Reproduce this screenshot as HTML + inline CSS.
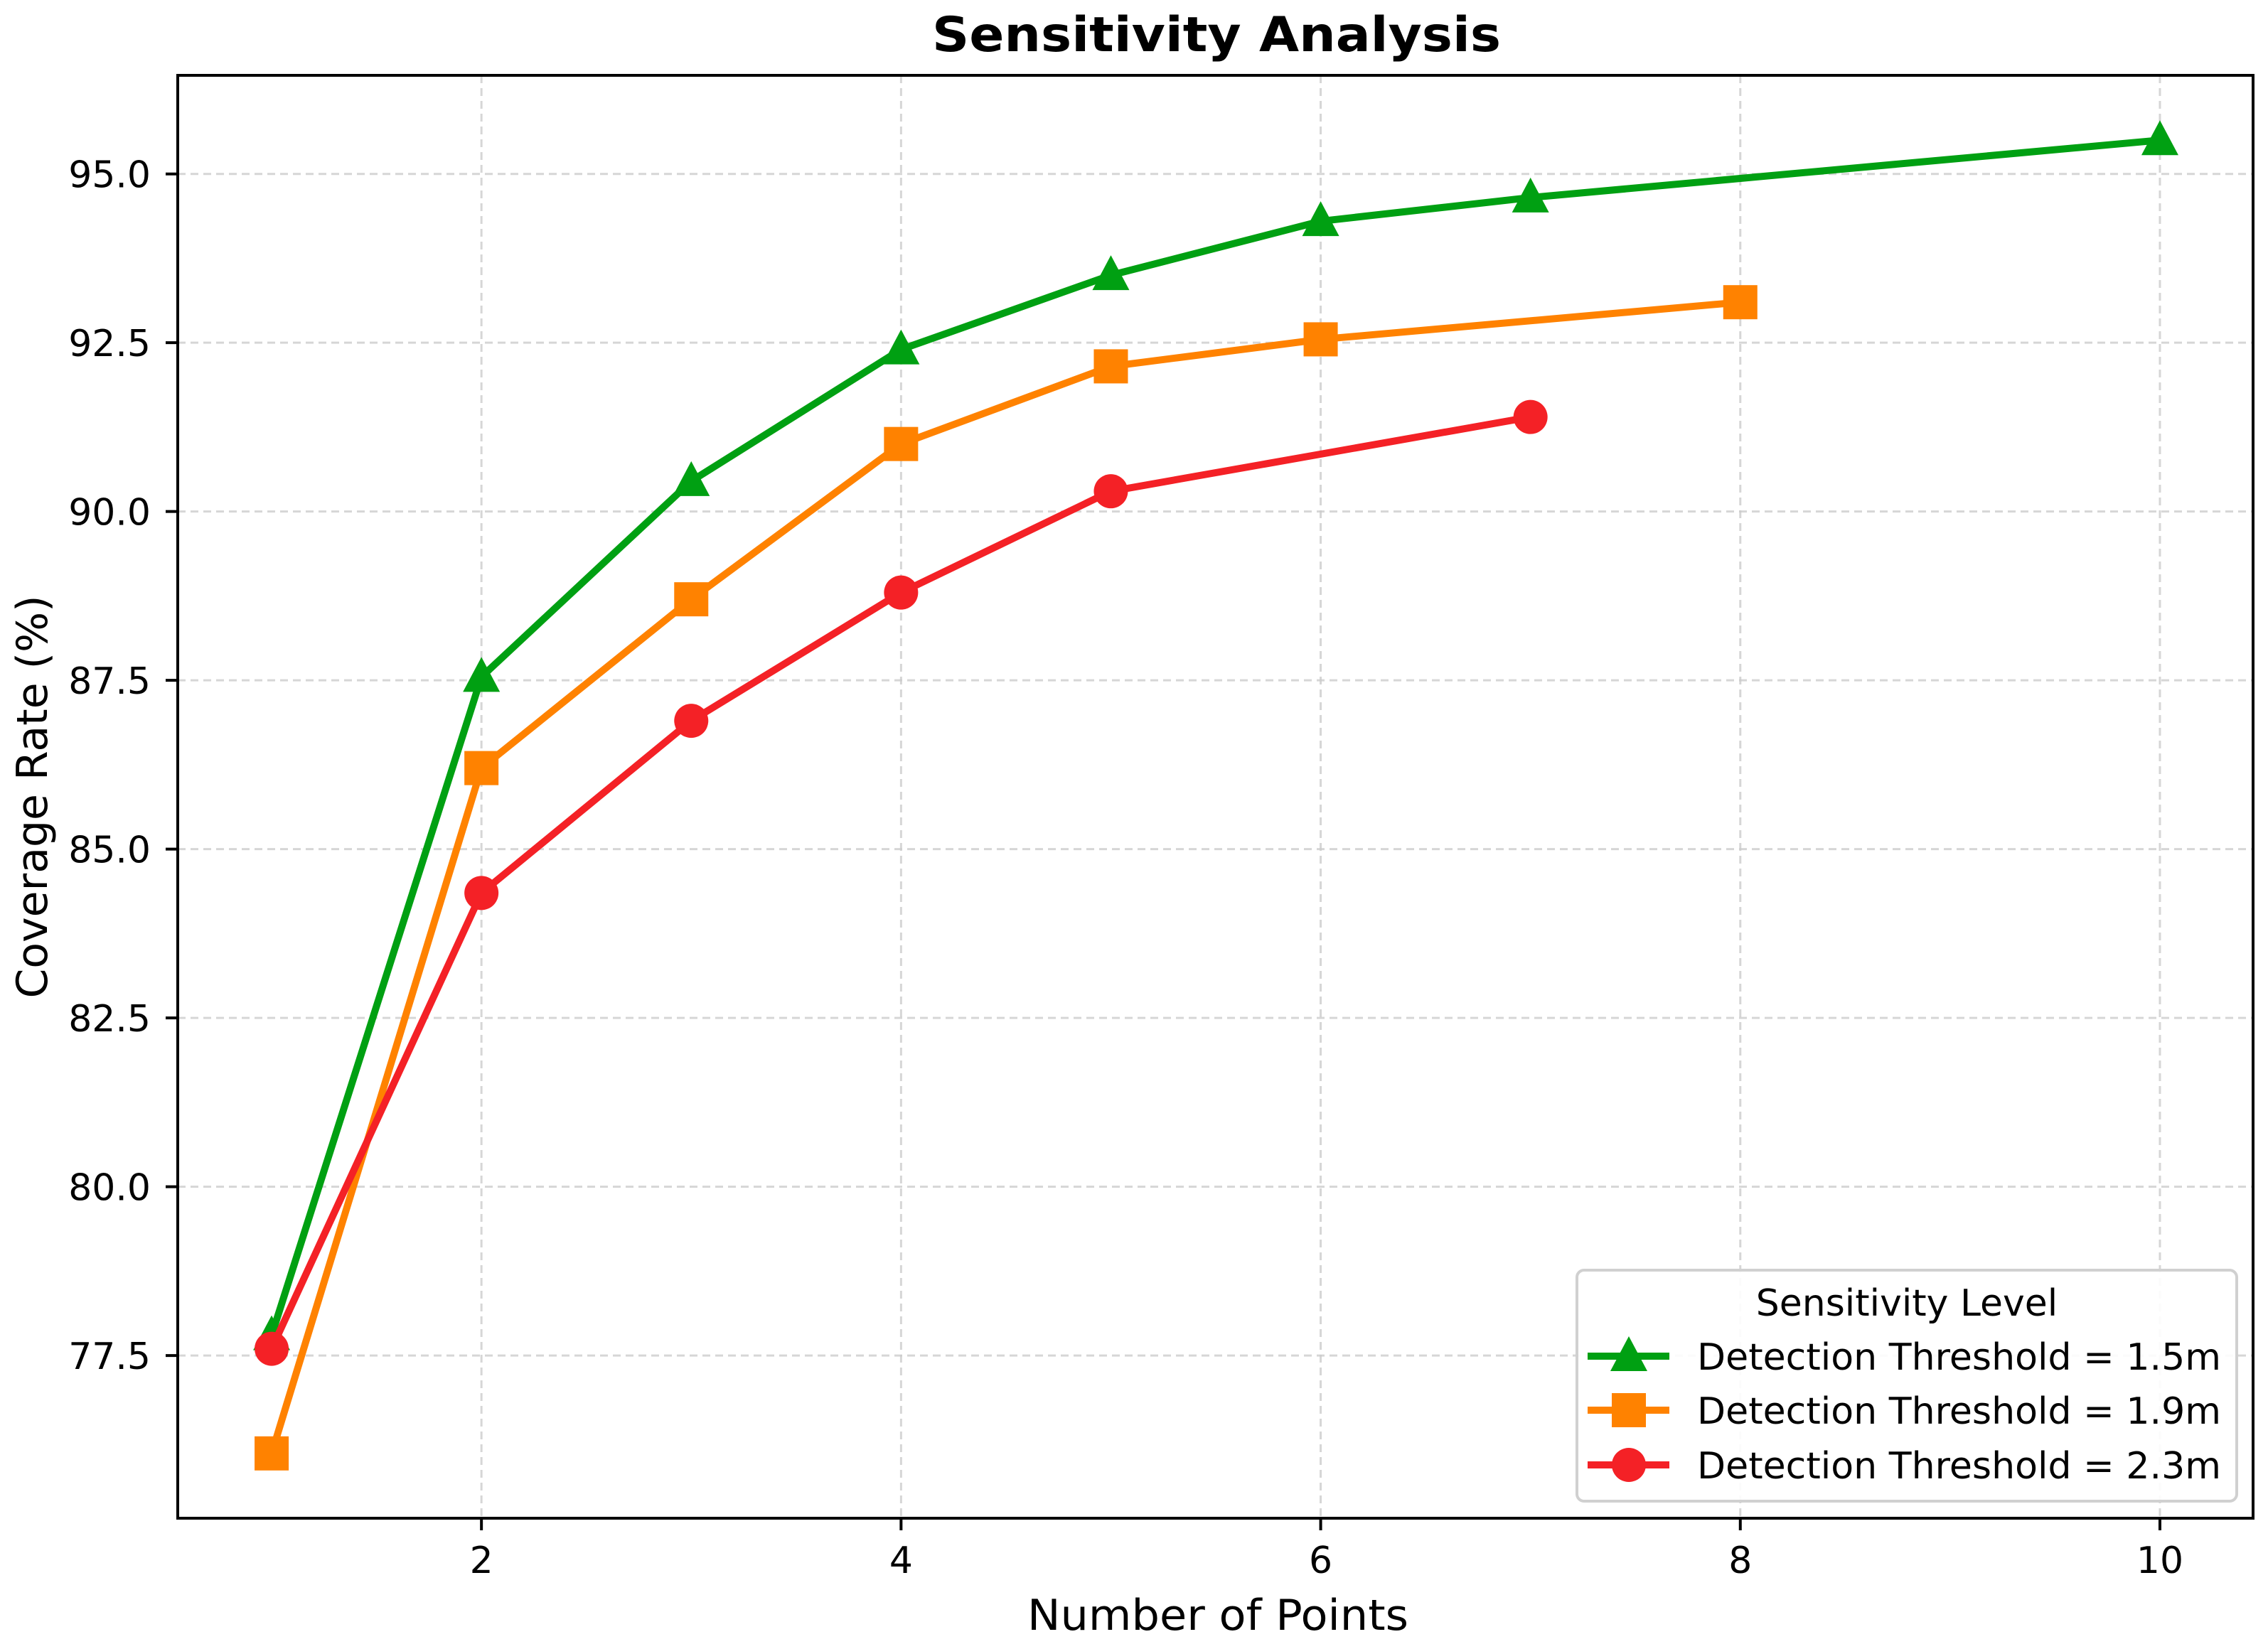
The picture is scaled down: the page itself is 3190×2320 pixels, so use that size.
<!DOCTYPE html>
<html><head><meta charset="utf-8"><title>Sensitivity Analysis</title>
<style>html,body{margin:0;padding:0;background:#fff}svg{display:block}text{font-family:"DejaVu Sans","Liberation Sans",sans-serif}</style>
</head><body>
<svg id="chart" width="3190" height="2320" viewBox="0 0 3190 2320" xmlns="http://www.w3.org/2000/svg">
<rect width="3190" height="2320" fill="#fff"/>
<text x="1711" y="72" text-anchor="middle" font-size="68" font-weight="bold" textLength="800" lengthAdjust="spacingAndGlyphs">Sensitivity Analysis</text>
<g id="grid"></g>
<g id="series"></g>
<rect x="250" y="106" width="2919" height="2030" fill="none" stroke="#000" stroke-width="4"/>
<g id="ticks"></g>
<text x="1713" y="2293" text-anchor="middle" font-size="60" textLength="536" lengthAdjust="spacingAndGlyphs">Number of Points</text>
<text x="0" y="0" transform="translate(66,1121) rotate(-90)" text-anchor="middle" font-size="60">Coverage Rate (%)</text>
<g id="legend"></g>
</svg>
<script>
const xTicks = [2, 4, 6, 8, 10];
const yTicks = [77.5, 80.0, 82.5, 85.0, 87.5, 90.0, 92.5, 95.0];
const yTickLabels = ["77.5", "80.0", "82.5", "85.0", "87.5", "90.0", "92.5", "95.0"];
const seriesNames = ["Detection Threshold = 1.5m", "Detection Threshold = 1.9m", "Detection Threshold = 2.3m"];
const xGreen = [1, 2, 3, 4, 5, 6, 7, 10];
const yGreen = [77.8, 87.55, 90.45, 92.4, 93.5, 94.3, 94.65, 95.5];
const xOrange = [1, 2, 3, 4, 5, 6, 8];
const yOrange = [76.05, 86.2, 88.7, 91.0, 92.15, 92.55, 93.1];
const xRed = [1, 2, 3, 4, 5, 7];
const yRed = [77.6, 84.35, 86.9, 88.8, 90.3, 91.4];

const NS = "http://www.w3.org/2000/svg";
const X0 = 250, X1 = 3169, Y0 = 106, Y1 = 2136;
const xMin = 0.5525, xMax = 10.444, yMin = 75.09, yMax = 96.46;
function sx(v){ return X0 + (v - xMin) / (xMax - xMin) * (X1 - X0); }
function sy(v){ return Y1 - (v - yMin) / (yMax - yMin) * (Y1 - Y0); }
function mk(tag, attrs, parent){ const e = document.createElementNS(NS, tag); for (const k in attrs) e.setAttribute(k, attrs[k]); parent.appendChild(e); return e; }

const grid = document.getElementById('grid');
const ticks = document.getElementById('ticks');
xTicks.forEach(function(t){
  const x = sx(t);
  const g = mk('line', {x1:x, x2:x, y1:Y0, y2:Y1, stroke:'#cccccc', 'stroke-width':3, 'stroke-dasharray':'11 7', opacity:0.8}, grid);
  
  
  const tk = mk('line', {x1:x, x2:x, y1:Y1, y2:Y1+17, stroke:'#000', 'stroke-width':4}, ticks);
  
  
  const tl = mk('text', {x:x, y:2213, 'text-anchor':'middle', 'font-size':52}, ticks);
  tl.textContent = String(t);
  
  
});
yTicks.forEach(function(t, i){
  const y = sy(t);
  const g = mk('line', {x1:X0, x2:X1, y1:y, y2:y, stroke:'#cccccc', 'stroke-width':3, 'stroke-dasharray':'11 7', opacity:0.8}, grid);
  
  
  const tk = mk('line', {x1:X0-17, x2:X0, y1:y, y2:y, stroke:'#000', 'stroke-width':4}, ticks);
  
  
  const tl = mk('text', {x:212, y:y+19, 'text-anchor':'end', 'font-size':52}, ticks);
  tl.textContent = yTickLabels[i];
  
  
});

function marker(kind, cx, cy, color, parent){
  let e;
  if (kind === 'tri') {
    e = mk('polygon', {points: cx + ',' + (cy-28) + ' ' + (cx-26) + ',' + (cy+21) + ' ' + (cx+26) + ',' + (cy+21), fill:color}, parent);
  } else if (kind === 'sq') {
    e = mk('rect', {x:cx-24, y:cy-24, width:48, height:48, fill:color}, parent);
  } else {
    e = mk('circle', {cx:cx, cy:cy, r:24, fill:color}, parent);
  }
  return e;
}

const seriesLayer = document.getElementById('series');
const allSeries = [
  {xs:xGreen, ys:yGreen, color:'#00a012', kind:'tri', slug:'threshold-1-5m'},
  {xs:xOrange, ys:yOrange, color:'#ff8200', kind:'sq', slug:'threshold-1-9m'},
  {xs:xRed, ys:yRed, color:'#f42126', kind:'circ', slug:'threshold-2-3m'}
];
allSeries.forEach(function(s){
  const g = mk('g', {}, seriesLayer);
  
  
  const pts = s.xs.map(function(x, i){ return sx(x) + ',' + sy(s.ys[i]); }).join(' ');
  const pl = mk('polyline', {points:pts, fill:'none', stroke:s.color, 'stroke-width':10, 'stroke-linejoin':'round'}, g);
  
  
  s.xs.forEach(function(x, i){
    const m = marker(s.kind, sx(x), sy(s.ys[i]), s.color, g);
    
    
  });
});

const lg = document.getElementById('legend');
const box = mk('rect', {x:2218, y:1787, width:928, height:325, rx:10, fill:'#fff', 'fill-opacity':0.9, stroke:'#d0d0d0', 'stroke-width':4}, lg);


const lt = mk('text', {x:2682, y:1851, 'text-anchor':'middle', 'font-size':52}, lg);
lt.textContent = 'Sensitivity Level';


const rowY = [1908, 1984, 2061];
allSeries.forEach(function(s, i){
  const row = mk('g', {}, lg);
  
  
  const y = rowY[i];
  mk('line', {x1:2233, x2:2348, y1:y, y2:y, stroke:s.color, 'stroke-width':10}, row);
  marker(s.kind, 2291, y, s.color, row);
  const t = mk('text', {x:2387, y:y+19, 'font-size':52, textLength:737, lengthAdjust:'spacingAndGlyphs'}, row);
  t.textContent = seriesNames[i];
});
</script>
</body></html>
